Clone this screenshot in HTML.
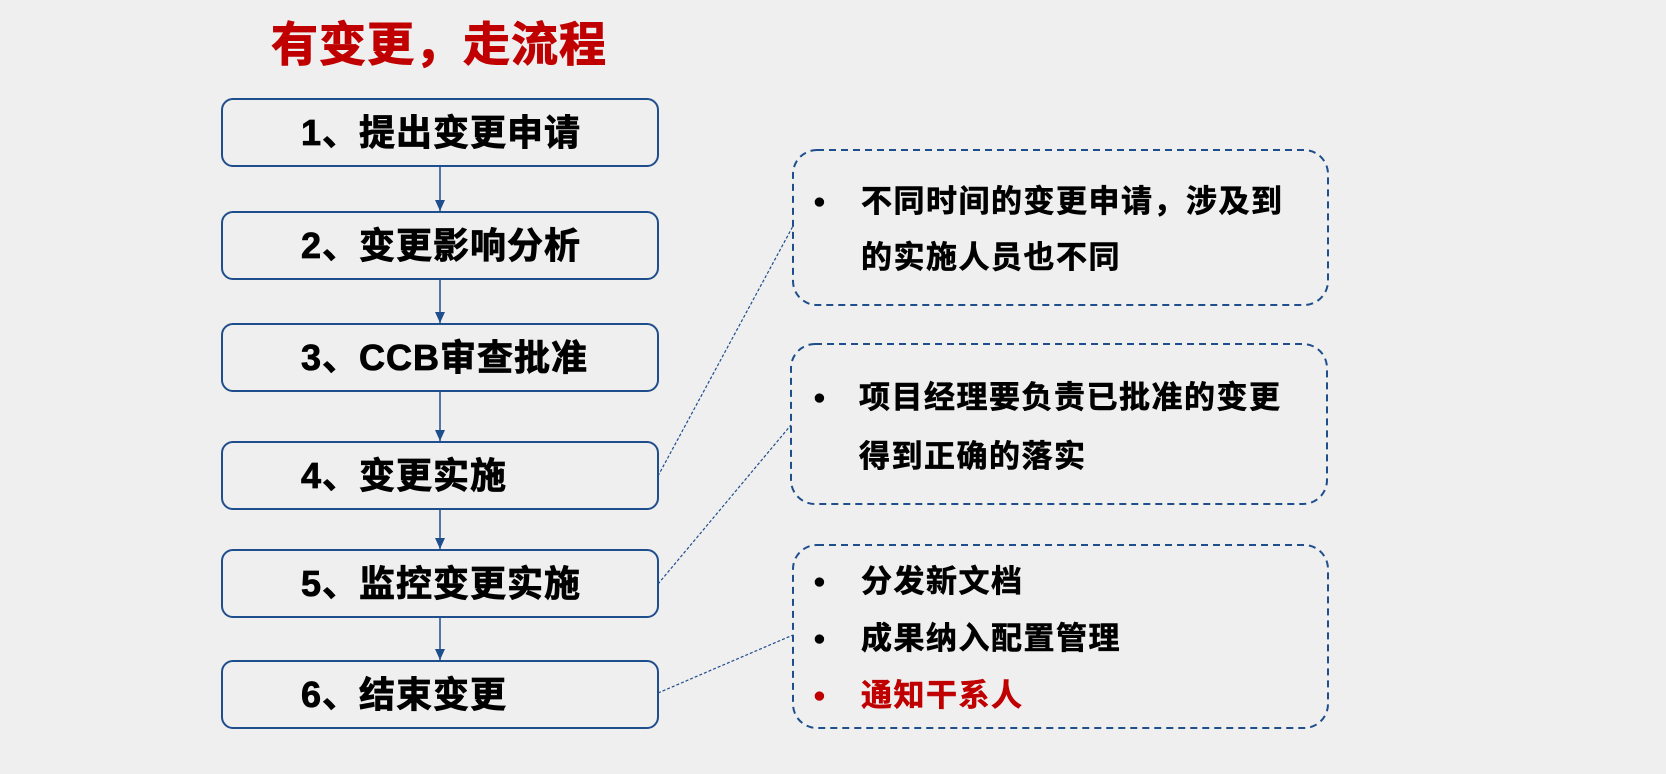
<!DOCTYPE html>
<html><head><meta charset="utf-8"><style>
body{margin:0;width:1666px;height:774px;background:#efefef;overflow:hidden;position:relative;font-family:"Liberation Sans","Noto Sans CJK SC",sans-serif;font-weight:bold}
.t{position:absolute;white-space:nowrap}
.bx{position:absolute;left:301px;font-size:36px;letter-spacing:1px;color:#000;line-height:40px;-webkit-text-stroke:0.8px #000}
.r{position:absolute;font-size:31px;letter-spacing:1.5px;color:#000;line-height:36px;white-space:nowrap;-webkit-text-stroke:0.6px currentColor}
</style></head><body>
<svg width="1666" height="774" style="position:absolute;left:0;top:0">
<defs><marker id="a" markerWidth="12" markerHeight="12" refX="11" refY="5" orient="auto" markerUnits="userSpaceOnUse"><path d="M0,0 L11,5 L0,10 z" fill="#1f4e8c"/></marker></defs>
<g fill="none" stroke="#1f4e8c" stroke-width="2">
<rect x="222" y="99" width="436" height="67" rx="11"/>
<rect x="222" y="212" width="436" height="67" rx="11"/>
<rect x="222" y="324" width="436" height="67" rx="11"/>
<rect x="222" y="442" width="436" height="67" rx="11"/>
<rect x="222" y="550" width="436" height="67" rx="11"/>
<rect x="222" y="661" width="436" height="67" rx="11"/>
</g>
<g stroke="#1f4e8c" stroke-width="1.5">
<line x1="440" y1="166" x2="440" y2="211" marker-end="url(#a)"/>
<line x1="440" y1="279" x2="440" y2="323" marker-end="url(#a)"/>
<line x1="440" y1="391" x2="440" y2="441" marker-end="url(#a)"/>
<line x1="440" y1="509" x2="440" y2="549" marker-end="url(#a)"/>
<line x1="440" y1="617" x2="440" y2="660" marker-end="url(#a)"/>
</g>
<g fill="none" stroke="#1f4e8c" stroke-width="2" stroke-dasharray="7,5">
<rect x="793" y="150" width="535" height="155" rx="24"/>
<rect x="791" y="344" width="536" height="160" rx="24"/>
<rect x="793" y="545" width="535" height="183" rx="24"/>
</g>
<g stroke="#1f4e8c" stroke-width="1.2" stroke-dasharray="3,2">
<line x1="658" y1="476" x2="793" y2="226"/>
<line x1="658" y1="584" x2="791" y2="425"/>
<line x1="658" y1="693" x2="793" y2="635"/>
</g>
</svg>
<div class="t" style="left:271px;top:17px;font-size:47px;letter-spacing:1px;color:#c00000;line-height:56px;-webkit-text-stroke:1px #c00000">有变更，走流程</div>
<div class="bx" style="top:113px">1、提出变更申请</div>
<div class="bx" style="top:226px">2、变更影响分析</div>
<div class="bx" style="top:338px">3、CCB审查批准</div>
<div class="bx" style="top:456px">4、变更实施</div>
<div class="bx" style="top:564px">5、监控变更实施</div>
<div class="bx" style="top:675px">6、结束变更</div>
<div class="r" style="left:814px;top:184px">•</div>
<div class="r" style="left:861px;top:184px">不同时间的变更申请，涉及到</div>
<div class="r" style="left:861px;top:240px">的实施人员也不同</div>
<div class="r" style="left:814px;top:380px">•</div>
<div class="r" style="left:859px;top:380px">项目经理要负责已批准的变更</div>
<div class="r" style="left:859px;top:439px">得到正确的落实</div>
<div class="r" style="left:814px;top:564px">•</div>
<div class="r" style="left:861px;top:564px">分发新文档</div>
<div class="r" style="left:814px;top:621px">•</div>
<div class="r" style="left:861px;top:621px">成果纳入配置管理</div>
<div class="r" style="left:814px;top:678px;color:#c00000">•</div>
<div class="r" style="left:861px;top:678px;color:#c00000">通知干系人</div>
</body></html>
